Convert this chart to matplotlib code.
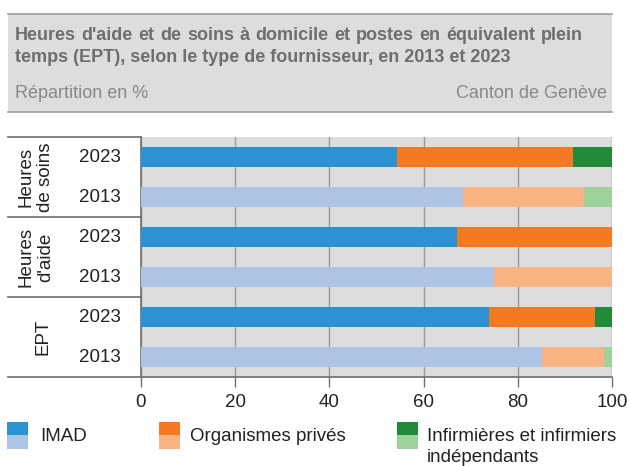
import matplotlib
matplotlib.use("Agg")
import matplotlib.pyplot as plt
from matplotlib.patches import Rectangle
from matplotlib.lines import Line2D
import matplotlib.transforms as mtransforms

plt.rcParams['font.family'] = ['Liberation Sans', 'DejaVu Sans']

# ---------------- data ----------------
title_line1 = "Heures d'aide et de soins à domicile et postes en équivalent plein"
title_line2 = "temps (EPT), selon le type de fournisseur, en 2013 et 2023"
groups = ["Heures\nde soins", "Heures\nd'aide", "EPT"]
years = ["2023", "2013"]
series = ["IMAD", "Organismes privés", "Infirmières et infirmiers\nindépendants"]
# rows: (group, year) top to bottom
imad = [54.3, 68.3, 67.1, 75.0, 73.9, 85.2]
prives = [37.5, 25.65, 32.9, 25.0, 22.5, 13.0]
independants = [8.2, 6.05, 0.0, 0.0, 3.6, 1.8]
xticks = [0, 20, 40, 60, 80, 100]

dark_colors = ["#2b93d1", "#f47920", "#228b3a"]
light_colors = ["#aec4e5", "#f9b384", "#9dd39b"]

W, H = 630, 466
fig = plt.figure(figsize=(W / 100, H / 100), dpi=100)

FS = 13.5
TFS = 13.0


def fx(px):
    return px / W


def fy(py):
    return 1 - py / H


# ---------------- header ----------------
hdr_bg = "#dcdddf"
fig.patches.append(Rectangle((fx(8), fy(112)), fx(612) - fx(8), fy(14) - fy(112),
                             transform=fig.transFigure, facecolor=hdr_bg,
                             edgecolor="none", zorder=0))
for yy in (14, 112):
    fig.lines.append(Line2D([fx(8), fx(612)], [fy(yy), fy(yy)], transform=fig.transFigure,
                            color="#9d9d9f", lw=1.2))

# justified first title line
renderer = fig.canvas.get_renderer()
words = title_line1.split(" ")
wtexts = [fig.text(0, fy(36), w, fontsize=TFS, fontweight="bold", color="#6d6e70",
                   va="center", ha="left") for w in words]
widths = [t.get_window_extent(renderer=renderer).width for t in wtexts]
x_left, x_right = 15, 583
gap = (x_right - x_left - sum(widths)) / (len(words) - 1)
xpos = x_left
for t, wdt in zip(wtexts, widths):
    t.set_x(fx(xpos))
    xpos += wdt + gap

fig.text(fx(15), fy(57), title_line2,
         fontsize=TFS, fontweight="bold", color="#6d6e70", va="center", ha="left")
fig.text(fx(15), fy(93), "Répartition en %", fontsize=TFS, color="#87888a",
         va="center", ha="left")
fig.text(fx(607), fy(93), "Canton de Genève", fontsize=TFS, color="#87888a",
         va="center", ha="right")

# ---------------- plot ----------------
ax_l, ax_r, ax_t, ax_b = 141, 612, 137, 377
ax = fig.add_axes([fx(ax_l), fy(ax_b), fx(ax_r) - fx(ax_l), fy(ax_t) - fy(ax_b)])
ax.set_facecolor("#dcdddf")

n = len(imad)
ypos = list(range(n))
for i in range(n):
    is2023 = (i % 2 == 0)
    cols = dark_colors if is2023 else light_colors
    left = 0
    for j, vals in enumerate([imad, prives, independants]):
        v = vals[i]
        if v > 0:
            ax.barh(ypos[i], v, left=left, height=0.5, color=cols[j], edgecolor="none", zorder=3)
        left += v

ax.set_xlim(0, 100)
ax.set_ylim(n - 0.5, -0.5)
ax.set_xticks(xticks)
ax.set_xticklabels([str(t) for t in xticks], fontsize=FS, color="#222222")
ax.set_yticks([])
ax.tick_params(axis="x", length=7, width=1, color="#6d6e70", pad=5)
ax.grid(axis="x", color="#9a9a9c", lw=1, zorder=1)
for s in ("top", "right"):
    ax.spines[s].set_visible(False)
ax.spines["left"].set_color("#6d6e70")
ax.spines["left"].set_linewidth(1.2)
ax.spines["bottom"].set_visible(False)

# table lines on left
btrans = mtransforms.blended_transform_factory(fig.transFigure, ax.transData)
line_col = "#6d6e70"
fig.lines.append(Line2D([fx(8), fx(ax_l)], [fy(ax_t), fy(ax_t)], transform=fig.transFigure,
                        color=line_col, lw=1.2))
fig.lines.append(Line2D([fx(8), fx(ax_r)], [fy(ax_b), fy(ax_b)], transform=fig.transFigure,
                        color=line_col, lw=1.2))
for sep in (1.5, 3.5):
    fig.lines.append(Line2D([fx(8), fx(ax_l)], [sep, sep], transform=btrans,
                            color=line_col, lw=1.2))

# year labels and group labels
for i in range(n):
    fig.text(fx(100), ypos[i], years[i % 2], transform=btrans, fontsize=FS, color="#222222",
             ha="center", va="center")
group_x = [36, 36, 43]
for g, lab in enumerate(groups):
    fig.text(fx(group_x[g]), 2 * g + 0.5, lab, transform=btrans, rotation=90,
             fontsize=FS, color="#222222", ha="center", va="center",
             multialignment="center", linespacing=1.2)

# ---------------- legend ----------------
leg_items = [(7, 40), (159, 190), (397, 427)]
for k, (sx, tx) in enumerate(leg_items):
    fig.patches.append(Rectangle((fx(sx), fy(435)), fx(21), fy(422) - fy(435),
                                 transform=fig.transFigure, facecolor=dark_colors[k],
                                 edgecolor="none"))
    fig.patches.append(Rectangle((fx(sx), fy(449)), fx(21), fy(435) - fy(449),
                                 transform=fig.transFigure, facecolor=light_colors[k],
                                 edgecolor="none"))
    fig.text(fx(tx), fy(428), series[k], fontsize=FS, color="#222222",
             ha="left", va="top", linespacing=1.3)

fig.savefig("out.png", dpi=100, facecolor="white")
